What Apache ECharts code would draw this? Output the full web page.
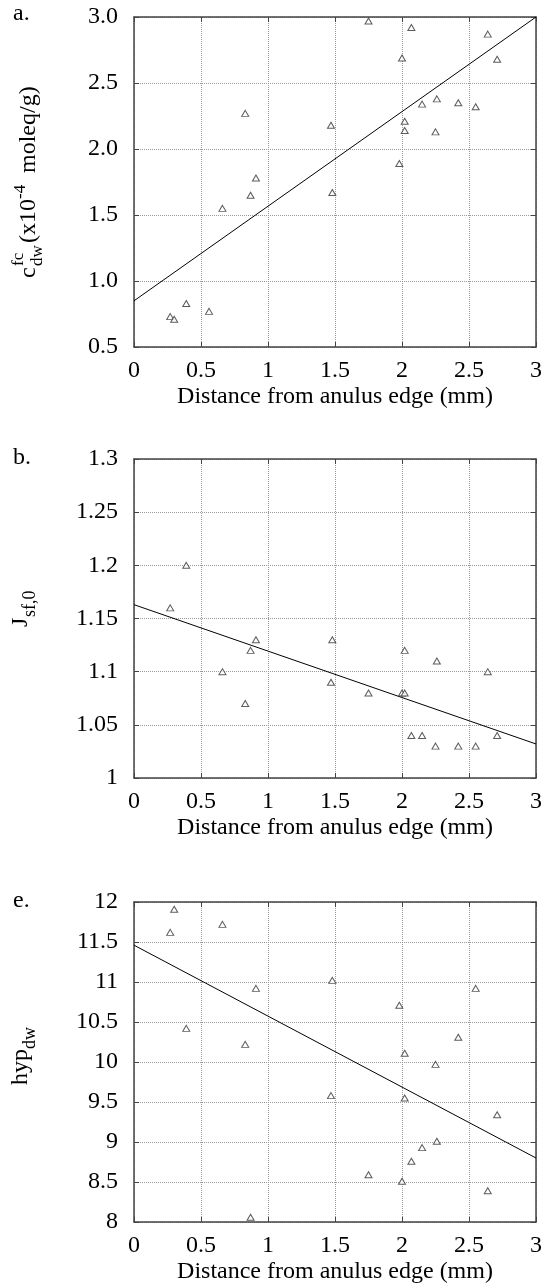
<!DOCTYPE html>
<html>
<head>
<meta charset="utf-8">
<script src="https://cdn.jsdelivr.net/npm/echarts@6.0.0/dist/echarts.min.js"></script>
<style>
  html, body { margin: 0; padding: 0; background: #fff; }
  #chart { width: 545px; height: 1288px; }
</style>
</head>
<body>
<div id="chart"></div>
<script>
// panel a: fixed charge density vs distance
const distA = [0.27, 0.30, 0.39, 0.56, 0.66, 0.83, 0.87, 0.91, 1.47, 1.48, 1.75, 2.07,
  2.00, 2.64, 2.71, 2.15, 2.26, 2.42, 2.55, 2.02, 2.02, 2.25, 1.98];
const cdwA = [0.73, 0.71, 0.83, 0.77, 1.55, 2.27, 1.65, 1.78, 2.18, 1.67, 2.97, 2.92,
  2.69, 2.87, 2.68, 2.34, 2.38, 2.35, 2.32, 2.21, 2.14, 2.13, 1.89];
const fitAx = [0, 3];
const fitAy = [0.85, 3.0];

// panel b: J sf,0
const distB = [0.27, 0.39, 0.66, 0.83, 0.87, 0.91, 1.47, 1.48, 1.75, 2.00, 2.02, 2.02,
  2.07, 2.15, 2.26, 2.25, 2.42, 2.55, 2.64, 2.71];
const jsfB = [1.16, 1.20, 1.10, 1.07, 1.12, 1.13, 1.09, 1.13, 1.08, 1.08, 1.08, 1.12,
  1.04, 1.04, 1.11, 1.03, 1.03, 1.03, 1.10, 1.04];
const fitBx = [0, 3];
const fitBy = [1.163, 1.032];

// panel e: hydration
const distE = [0.30, 0.27, 0.66, 0.39, 0.83, 0.91, 1.48, 1.47, 0.87, 1.98, 2.55, 2.42,
  2.02, 2.25, 2.02, 2.71, 2.26, 2.15, 2.07, 1.75, 2.00, 2.64];
const hypE = [11.91, 11.62, 11.72, 10.42, 10.22, 10.92, 11.02, 9.58, 8.06, 10.71, 10.92, 10.31,
  10.11, 9.97, 9.55, 9.34, 9.01, 8.93, 8.76, 8.59, 8.51, 8.39];
const fitEx = [0, 3];
const fitEy = [11.46, 8.80];

const xTicks = { min: 0, max: 3, step: 0.5 };
const xTitle = 'Distance from anulus edge (mm)';

const FONT = 'Liberation Serif';
const AXIS_COLOR = '#444';

const panels = [
  { top: 17, height: 330, yMin: 0.5, yMax: 3.0, yStep: 0.5, xs: distA, ys: cdwA, fx: fitAx, fy: fitAy, fmt: v => v.toFixed(1) },
  { top: 459, height: 319, yMin: 1, yMax: 1.3, yStep: 0.05, xs: distB, ys: jsfB, fx: fitBx, fy: fitBy },
  { top: 902, height: 320, yMin: 8, yMax: 12, yStep: 0.5, xs: distE, ys: hypE, fx: fitEx, fy: fitEy }
];

const lineStyle = { color: AXIS_COLOR, width: 1.5 };
const tickStyle = { show: true, inside: true, length: 5, lineStyle: { color: AXIS_COLOR, width: 1 } };

let grids = [], xAxes = [], yAxes = [], series = [];

panels.forEach((p, i) => {
  grids.push({ left: 134, top: p.top, width: 403, height: p.height, show: false });

  // bottom axis with labels + top mirror with ticks only
  xAxes.push({
    gridIndex: i, type: 'value', position: 'bottom',
    min: xTicks.min, max: xTicks.max, interval: xTicks.step,
    axisLine: { show: true, onZero: false, lineStyle },
    axisTick: tickStyle,
    axisLabel: { margin: 12, color: '#000', fontFamily: FONT, fontSize: 24, showMinLabel: true, showMaxLabel: true },
    splitLine: { show: true, lineStyle: { type: 'dotted', color: '#999', width: 1 } },
    name: xTitle, nameLocation: 'middle', nameGap: 38,
    nameTextStyle: { color: '#000', fontFamily: FONT, fontSize: 24 }
  });
  xAxes.push({
    gridIndex: i, type: 'value', position: 'top',
    min: xTicks.min, max: xTicks.max, interval: xTicks.step,
    axisLine: { show: true, onZero: false, lineStyle },
    axisTick: tickStyle, axisLabel: { show: false }, splitLine: { show: false }
  });

  yAxes.push({
    gridIndex: i, type: 'value', position: 'left',
    min: p.yMin, max: p.yMax, interval: p.yStep,
    axisLine: { show: true, onZero: false, lineStyle },
    axisTick: tickStyle,
    axisLabel: { margin: 16, color: '#000', fontFamily: FONT, fontSize: 24, showMinLabel: true, showMaxLabel: true, formatter: p.fmt },
    splitLine: { show: true, lineStyle: { type: 'dotted', color: '#999', width: 1 } }
  });
  yAxes.push({
    gridIndex: i, type: 'value', position: 'right',
    min: p.yMin, max: p.yMax, interval: p.yStep,
    axisLine: { show: true, onZero: false, lineStyle },
    axisTick: tickStyle, axisLabel: { show: false }, splitLine: { show: false }
  });

  series.push({
    type: 'scatter', xAxisIndex: 2 * i, yAxisIndex: 2 * i,
    data: p.xs.map((x, k) => [x, p.ys[k]]),
    symbol: 'triangle', symbolSize: [7, 6],
    itemStyle: { color: '#fff', borderColor: '#333', borderWidth: 1 },
    z: 3
  });
  series.push({
    type: 'line', xAxisIndex: 2 * i, yAxisIndex: 2 * i,
    data: p.fx.map((x, k) => [x, p.fy[k]]),
    symbol: 'none', lineStyle: { color: '#000', width: 1 }, z: 2
  });
});

// rotated y-axis titles with sub/superscripts
function txt(t, lx, baseline, size) {
  return {
    type: 'text', x: lx, y: baseline - 0.3 * size,
    style: {
      text: t, fontSize: size, fontFamily: FONT, fill: '#000',
      align: 'left', textAlign: 'left', verticalAlign: 'middle', textVerticalAlign: 'middle'
    }
  };
}
function yName(x, y, parts) {
  return { type: 'group', x: x, y: y, rotation: Math.PI / 2, children: parts };
}
function letter(t, top) {
  return txt(t, 13, top, 24);
}

const graphic = [
  letter('a.', 21), letter('b.', 465), letter('e.', 908),
  yName(36, 178, [
    txt('c', -100, 0, 24),
    txt('fc', -88, -12, 17),
    txt('dw', -88, 7, 17),
    txt('(x10', -65, 0, 24),
    txt('-4', -21, -10, 17),
    txt('moleq/g)', 5, 0, 24)
  ]),
  yName(28, 601, [
    txt('J', -26, 0, 24),
    txt('sf,0', -16, 8, 18)
  ]),
  yName(28, 1054, [
    txt('hyp', -31, 0, 24),
    txt('dw', 5, 8, 18)
  ])
];

const chart = echarts.init(document.getElementById('chart'));
chart.setOption({
  animation: false,
  backgroundColor: '#fff',
  grid: grids,
  xAxis: xAxes,
  yAxis: yAxes,
  series: series,
  graphic: graphic
});
</script>
</body>
</html>
